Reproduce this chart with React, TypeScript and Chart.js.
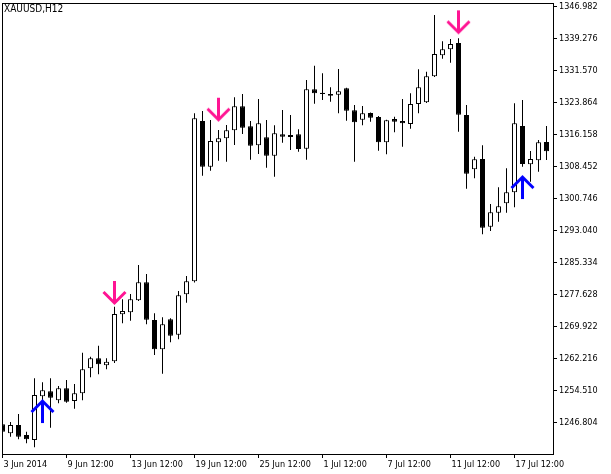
import React, { useEffect, useRef } from "react";
import { Chart, registerables } from "chart.js";

Chart.register(...registerables);

const symbolTitle = "XAUUSD,H12";

// H12 candles, oldest first
const opens = [
  1246.33, 1244.16, 1246.16, 1243.76, 1242.55, 1253.07, 1254.28, 1252.11, 1255.0, 1251.94,
  1253.8, 1259.82, 1262.22, 1260.54, 1261.5, 1272.82, 1273.3, 1276.19, 1280.52, 1271.45,
  1264.39, 1271.62, 1267.91, 1277.64, 1280.76, 1319.36, 1308.36, 1314.24, 1315.2, 1317.12,
  1322.9, 1318.09, 1313.51, 1315.44, 1311.01, 1316.16, 1315.99, 1316.16, 1312.69, 1327.0,
  1326.18, 1325.87, 1325.7, 1327.24, 1321.94, 1319.68, 1321.29, 1320.33, 1314.24, 1319.85,
  1319.36, 1318.64, 1323.46, 1323.87, 1330.13, 1335.18, 1336.63, 1338.15, 1320.81, 1307.73,
  1310.21, 1293.91, 1297.28, 1299.55, 1302.2, 1318.16, 1308.94, 1309.9, 1314.31,
];
const highs = [
  1246.89, 1246.89, 1248.81, 1244.55, 1257.41, 1256.45, 1257.41, 1255.56, 1257.0, 1256.04,
  1263.57, 1262.61, 1265.26, 1262.22, 1274.65, 1276.43, 1277.71, 1284.69, 1282.52, 1273.06,
  1272.1, 1271.86, 1278.43, 1282.04, 1321.22, 1321.77, 1319.61, 1317.2, 1318.4, 1325.07,
  1325.87, 1319.36, 1324.66, 1319.61, 1318.33, 1322.01, 1320.81, 1317.37, 1329.24, 1332.68,
  1330.85, 1327.48, 1331.89, 1327.4, 1323.22, 1322.98, 1321.4, 1320.57, 1319.68, 1320.4,
  1324.66, 1326.03, 1331.81, 1331.24, 1344.89, 1338.56, 1339.11, 1339.28, 1323.22, 1310.77,
  1313.51, 1299.38, 1303.4, 1307.97, 1323.63, 1324.42, 1312.14, 1314.79, 1318.16,
];
const lows = [
  1244.0, 1243.35, 1242.72, 1241.76, 1240.79, 1252.18, 1245.51, 1251.39, 1251.53, 1250.09,
  1252.11, 1257.65, 1258.37, 1259.58, 1261.09, 1270.65, 1271.28, 1276.0, 1270.41, 1263.02,
  1258.52, 1266.08, 1266.8, 1275.61, 1280.5, 1306.19, 1307.4, 1309.8, 1309.56, 1313.59,
  1316.23, 1310.05, 1311.42, 1308.12, 1305.95, 1314.14, 1312.38, 1311.97, 1310.05, 1323.53,
  1324.42, 1324.01, 1321.22, 1319.44, 1309.56, 1318.33, 1319.2, 1312.21, 1311.35, 1316.64,
  1313.18, 1317.51, 1321.22, 1323.7, 1329.95, 1334.37, 1333.4, 1316.79, 1303.06, 1305.57,
  1292.08, 1292.88, 1295.12, 1297.28, 1298.58, 1308.36, 1304.75, 1307.16, 1309.97,
];
const closes = [
  1244.55, 1246.16, 1243.35, 1242.72, 1253.39, 1254.52, 1252.74, 1255.0, 1251.77, 1253.8,
  1259.58, 1262.22, 1260.78, 1261.4, 1272.89, 1273.61, 1276.43, 1280.52, 1271.52, 1264.39,
  1270.41, 1267.67, 1277.39, 1280.76, 1320.01, 1308.36, 1314.55, 1315.2, 1317.12, 1322.9,
  1317.75, 1313.42, 1318.81, 1311.01, 1316.4, 1315.58, 1315.51, 1312.62, 1327.0, 1326.03,
  1325.87, 1325.46, 1326.52, 1321.84, 1319.05, 1321.22, 1320.16, 1314.24, 1319.53, 1319.2,
  1318.81, 1323.46, 1327.48, 1330.13, 1335.5, 1336.63, 1337.91, 1320.88, 1306.67, 1310.14,
  1293.67, 1297.38, 1298.82, 1302.2, 1318.81, 1309.01, 1310.21, 1314.24, 1312.07,
];

const xLabelBars = [0, 8, 16, 24, 32, 40, 48, 56, 64];
const xLabels = [
  "3 Jun 2014", "9 Jun 12:00", "13 Jun 12:00", "19 Jun 12:00", "25 Jun 12:00",
  "1 Jul 12:00", "7 Jul 12:00", "11 Jul 12:00", "17 Jul 12:00",
];
const yTicks = [
  1246.804, 1254.51, 1262.216, 1269.922, 1277.628, 1285.334, 1293.04,
  1300.746, 1308.452, 1316.158, 1323.864, 1331.57, 1339.276, 1346.982,
];

const sellArrowBars = [14, 27, 57];
const sellArrowValues = [1275.06, 1319.2, 1340.24];
const buyArrowBars = [5, 65];
const buyArrowValues = [1252.42, 1306.36];

const yMin = 1239.18;
const yMax = 1347.78;
const xMin = -0.0625;
const xMax = 68.8125;

const FONT_FAMILY = "'DejaVu Sans Condensed', 'DejaVu Sans', sans-serif";
const FONT_SIZE = 9;
const TITLE_SIZE = 10;

function makeArrow(color: string, down: boolean): HTMLCanvasElement {
  const c = document.createElement("canvas");
  c.width = 25;
  c.height = 50;
  const g = c.getContext("2d")!;
  g.strokeStyle = color;
  g.lineWidth = 3;
  g.lineCap = "butt";
  g.lineJoin = "miter";
  const cx = 12.5;
  if (down) {
    const tip = 23;
    g.beginPath();
    g.moveTo(cx, 1);
    g.lineTo(cx, tip);
    g.stroke();
    g.beginPath();
    g.moveTo(cx - 11, tip - 11);
    g.lineTo(cx, tip);
    g.lineTo(cx + 11, tip - 11);
    g.stroke();
  } else {
    const tip = 27;
    g.beginPath();
    g.moveTo(cx, 49);
    g.lineTo(cx, tip);
    g.stroke();
    g.beginPath();
    g.moveTo(cx - 11, tip + 11);
    g.lineTo(cx, tip);
    g.lineTo(cx + 11, tip + 11);
    g.stroke();
  }
  return c;
}

export default function App() {
  const ref = useRef<HTMLCanvasElement>(null);

  useEffect(() => {
    const canvas = ref.current;
    if (!canvas) return;

    const bodies = opens.map((o, i) => ({ x: i, y: [o, closes[i]] }));
    const wicks = highs.map((h, i) => ({ x: i, y: [lows[i], h] }));
    const bodyColors = opens.map((o, i) => (closes[i] >= o ? "#ffffff" : "#000000"));

    const font = { family: FONT_FAMILY, size: FONT_SIZE };

    const framePlugin = {
      id: "frame",
      beforeDatasetsDraw(chart: any) {
        const { ctx, chartArea } = chart;
        ctx.save();
        ctx.strokeStyle = "#000";
        ctx.lineWidth = 1;
        ctx.strokeRect(
          chartArea.left + 0.5,
          chartArea.top + 0.5,
          chartArea.right - chartArea.left,
          chartArea.bottom - chartArea.top
        );
        ctx.restore();
      },
      afterDraw(chart: any) {
        const { ctx, chartArea } = chart;
        ctx.save();
        ctx.fillStyle = "#000";
        ctx.font = `${TITLE_SIZE}px ${FONT_FAMILY}`;
        ctx.textBaseline = "middle";
        ctx.textAlign = "left";
        ctx.fillText(symbolTitle, chartArea.left + 2, chartArea.top + 6);
        ctx.restore();
      },
    };

    const chart = new Chart(canvas, {
      type: "bar",
      data: {
        datasets: [
          {
            type: "scatter",
            data: sellArrowBars.map((b, i) => ({ x: b, y: sellArrowValues[i] })),
            pointStyle: makeArrow("#ff1493", true),
            pointRadius: 12,
            order: 0,
          } as any,
          {
            type: "scatter",
            data: buyArrowBars.map((b, i) => ({ x: b, y: buyArrowValues[i] })),
            pointStyle: makeArrow("#0000ff", false),
            pointRadius: 12,
            order: 1,
          } as any,
          {
            type: "bar",
            data: bodies,
            backgroundColor: bodyColors,
            borderColor: "#000000",
            borderWidth: 1,
            borderSkipped: false,
            grouped: false,
            maxBarThickness: 5,
            inflateAmount: 0,
            order: 2,
          } as any,
          {
            type: "bar",
            data: wicks,
            backgroundColor: "#000000",
            borderWidth: 0,
            grouped: false,
            maxBarThickness: 1,
            inflateAmount: 0,
            order: 3,
          } as any,
        ],
      },
      options: {
        responsive: false,
        animation: false,
        devicePixelRatio: 1,
        events: [],
        layout: { autoPadding: false, padding: { left: 2, top: 3, right: 0, bottom: 0 } },
        plugins: {
          legend: { display: false },
          tooltip: { enabled: false },
          title: { display: false },
        },
        scales: {
          x: {
            type: "linear",
            min: xMin,
            max: xMax,
            bounds: "data",
            offset: false,
            grid: {
              offset: false,
              drawOnChartArea: false,
              drawTicks: true,
              tickLength: 4,
              color: "#000000",
              lineWidth: 1,
            },
            border: { display: true, color: "#000000", width: 1 },
            afterBuildTicks: (s: any) => {
              s.ticks = xLabelBars.map((v) => ({ value: v }));
            },
            ticks: {
              autoSkip: false,
              maxRotation: 0,
              minRotation: 0,
              align: "start",
              labelOffset: 1,
              padding: 1,
              color: "#000000",
              font,
              callback: (v: any) => {
                const k = xLabelBars.indexOf(Number(v));
                return k >= 0 ? xLabels[k] : "";
              },
            },
            afterFit: (s: any) => {
              s.height = 20;
              s.paddingLeft = 0;
              s.paddingRight = 0;
              s.paddingTop = 0;
              s.paddingBottom = 0;
            },
          } as any,
          y: {
            type: "linear",
            position: "right",
            min: yMin,
            max: yMax,
            bounds: "data",
            beginAtZero: false,
            grid: {
              drawOnChartArea: false,
              drawTicks: true,
              tickLength: 4,
              color: "#000000",
              lineWidth: 1,
            },
            border: { display: true, color: "#000000", width: 1 },
            afterBuildTicks: (s: any) => {
              s.ticks = yTicks.map((v) => ({ value: v }));
            },
            ticks: {
              autoSkip: false,
              padding: 2,
              color: "#000000",
              font,
              callback: (v: any) => Number(v).toFixed(3),
            },
            afterFit: (s: any) => {
              s.width = 58;
              s.paddingTop = 0;
              s.paddingBottom = 0;
              s.paddingLeft = 0;
              s.paddingRight = 0;
            },
          } as any,
        },
      },
      plugins: [framePlugin],
    });

    return () => chart.destroy();
  }, []);

  return (
    <div style={{ position: "absolute", left: 0, top: 0, width: 611, height: 474, background: "#fff" }}>
      <canvas ref={ref} width={611} height={474} style={{ display: "block" }} />
    </div>
  );
}
